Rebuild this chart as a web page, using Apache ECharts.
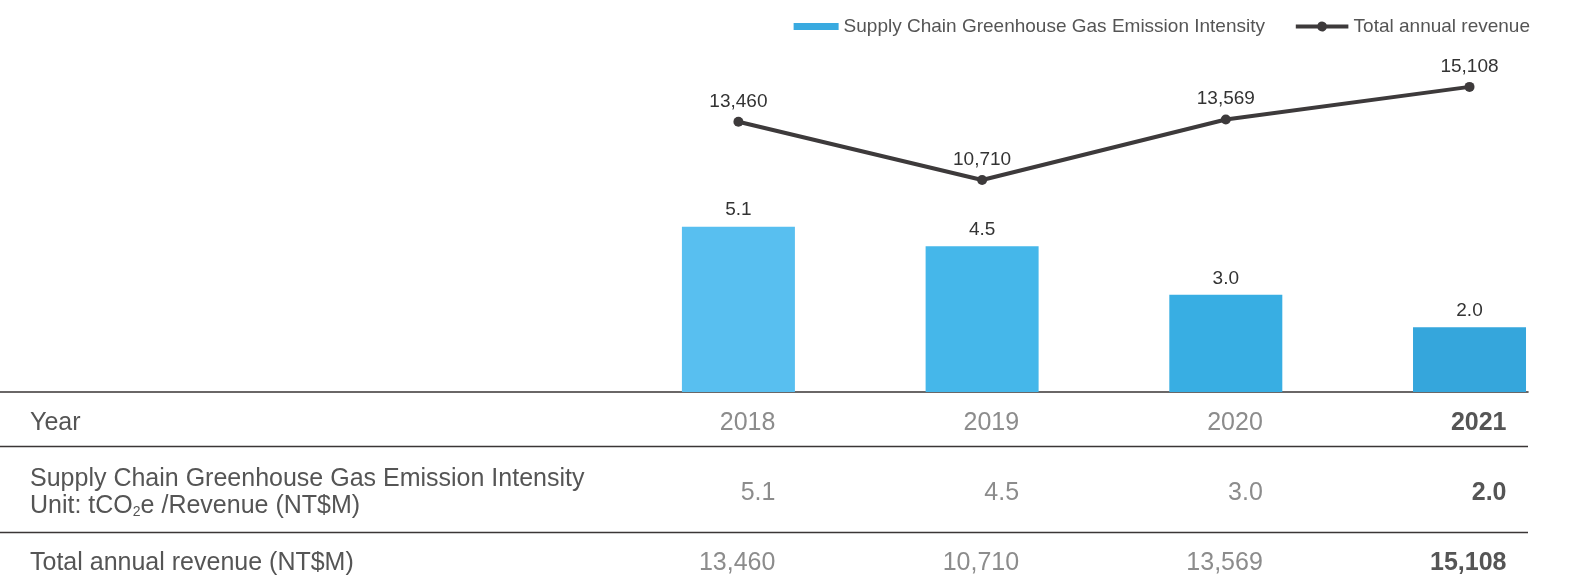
<!DOCTYPE html>
<html>
<head>
<meta charset="utf-8">
<script src="https://cdn.jsdelivr.net/npm/echarts@6/dist/echarts.min.js"></script>
<style>
  html, body { margin: 0; padding: 0; background: #fff; }
  #main { width: 1572px; height: 582px; }
</style>
</head>
<body>
<div id="main"></div>
<script>
// data
var years = [2018, 2019, 2020, 2021];
var intensity = [5.1, 4.5, 3.0, 2.0];
var revenue = [13460, 10710, 13569, 15108];
var rowLabels = ['Year', 'Supply Chain Greenhouse Gas Emission Intensity', 'Total annual revenue (NT$M)'];
var barName = 'Supply Chain Greenhouse Gas Emission Intensity';
var lineName = 'Total annual revenue';

var barColors = ['#58bff0', '#45b7ea', '#38aee3', '#35a6dc'];
var fontFamily = '"Liberation Sans", Arial, sans-serif';

function fmt(n) {
    return n.toLocaleString('en-US');
}

// line + dot legend icon
var lineIcon = 'path://M0,3L21.9,3A5,5 0 0 1 31.1,3L53,3L53,7L31.1,7A5,5 0 0 1 21.9,7L0,7Z';

var chart = echarts.init(document.getElementById('main'));

var option = {
    backgroundColor: '#fff',
    animation: false,
    textStyle: { fontFamily: fontFamily },
    legend: [
        {
            right: 302,
            top: 12,
            itemWidth: 45,
            itemHeight: 7,
            itemGap: 6,
            textStyle: { fontSize: 19, color: '#555', fontFamily: fontFamily },
            data: [{ name: barName, icon: 'rect', itemStyle: { color: '#39aae0' } }]
        },
        {
            right: 37,
            top: 12,
            itemWidth: 53,
            itemHeight: 10,
            textStyle: { fontSize: 19, color: '#555', fontFamily: fontFamily },
            data: [{ name: lineName, icon: lineIcon, itemStyle: { color: '#3d3a3b' } }]
        }
    ],
    grid: { left: 0, right: 44, top: 68, bottom: 190 },
    // years on a numeric axis so the baseline can run across the full width
    xAxis: {
        type: 'value',
        min: 2014.97,
        max: 2021.24,
        splitLine: { show: false },
        axisLine: { show: true, onZero: false, lineStyle: { color: '#3a3636', width: 1.6 } },
        axisTick: { show: false },
        axisLabel: { show: false }
    },
    yAxis: [
        { type: 'value', min: 0, max: 10, show: false, splitLine: { show: false } },
        { type: 'value', min: 700, max: 16000, show: false, splitLine: { show: false } }
    ],
    series: [
        {
            name: barName,
            type: 'bar',
            barWidth: 113,
            itemStyle: { color: '#3aade2' },
            label: {
                show: true,
                position: 'top',
                distance: 7,
                fontSize: 19,
                color: '#333',
                formatter: function (p) { return p.value[1].toFixed(1); }
            },
            data: intensity.map(function (v, i) {
                return { value: [years[i], v], itemStyle: { color: barColors[i] } };
            })
        },
        {
            name: lineName,
            type: 'line',
            yAxisIndex: 1,
            symbol: 'circle',
            symbolSize: 10,
            itemStyle: { color: '#3d3a3b' },
            lineStyle: { color: '#3d3a3b', width: 4 },
            label: {
                show: true,
                position: 'top',
                distance: 6,
                fontSize: 19,
                color: '#333',
                formatter: function (p) { return fmt(p.value[1]); }
            },
            data: revenue.map(function (v, i) { return [years[i], v]; })
        }
    ]
};

chart.setOption(option);

// table under the chart, columns follow the x axis
var xs = years.map(function (y) { return chart.convertToPixel({ xAxisIndex: 0 }, y); });
var lineRight = 1528;
var rows = [
    { y: 423, cells: years.map(String) },
    { y: 493, cells: intensity.map(function (v) { return v.toFixed(1); }) },
    { y: 563, cells: revenue.map(fmt) }
];

var g = [];
[446.5, 532.5].forEach(function (y) {
    g.push({
        type: 'line',
        shape: { x1: 0, y1: y, x2: lineRight, y2: y },
        style: { stroke: '#3a3636', lineWidth: 1.6 }
    });
});

g.push({ type: 'text', x: 30, y: 423, style: { text: rowLabels[0], font: '25px ' + fontFamily, fill: '#555', verticalAlign: 'middle' } });
g.push({
    type: 'text', x: 30, y: 493,
    style: {
        text: '{n|' + rowLabels[1] + '}\n{n|Unit: tCO}{s|2}{n|e /Revenue (NT$M)}',
        verticalAlign: 'middle',
        fill: '#555',
        rich: {
            n: { fontSize: 25, fontFamily: fontFamily, fill: '#555', lineHeight: 27 },
            s: { fontSize: 14, fontFamily: fontFamily, fill: '#555', lineHeight: 27, padding: [11, 0, 0, 0] }
        }
    }
});
g.push({ type: 'text', x: 30, y: 563, style: { text: rowLabels[2], font: '25px ' + fontFamily, fill: '#555', verticalAlign: 'middle' } });

rows.forEach(function (r) {
    r.cells.forEach(function (c, i) {
        var last = i === years.length - 1;
        g.push({
            type: 'text',
            x: xs[i] + 37,
            y: r.y,
            style: {
                text: c,
                font: (last ? 'bold ' : '') + '25px ' + fontFamily,
                fill: last ? '#555' : '#8c8c8c',
                align: 'right',
                verticalAlign: 'middle'
            }
        });
    });
});

chart.setOption({ graphic: g });
</script>
</body>
</html>
